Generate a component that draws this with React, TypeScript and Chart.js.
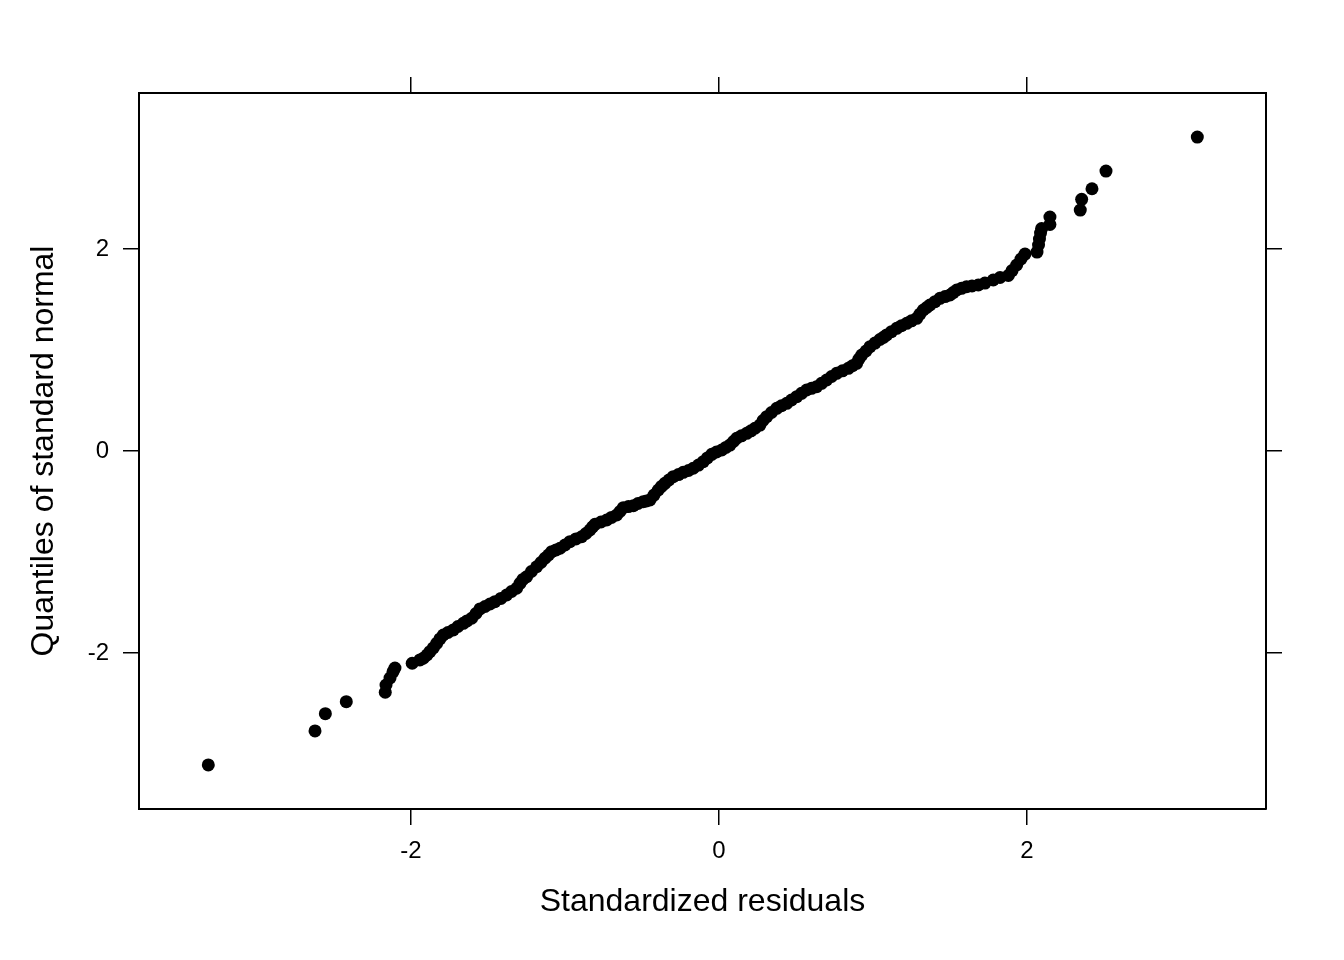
import React, { useEffect, useRef } from "react";
import { Chart, registerables } from "chart.js";

Chart.register(...registerables);

// Standardized residuals (x) and quantiles of standard normal (y)
const residuals: number[] = [
  -3.316, -2.623, -2.556, -2.42, -2.167, -2.162, -2.136, -2.117, -2.104, -1.992,
  -1.942, -1.92, -1.896, -1.877, -1.855, -1.833, -1.812, -1.79, -1.76, -1.725,
  -1.695, -1.66, -1.636, -1.606, -1.578, -1.552, -1.519, -1.487, -1.455, -1.416,
  -1.379, -1.347, -1.314, -1.292, -1.273, -1.249, -1.218, -1.184, -1.156, -1.13,
  -1.107, -1.086, -1.058, -1.032, -1.0, -0.968, -0.929, -0.892, -0.864, -0.838,
  -0.821, -0.805, -0.766, -0.729, -0.698, -0.664, -0.643, -0.621, -0.588, -0.556,
  -0.526, -0.492, -0.471, -0.448, -0.422, -0.394, -0.373, -0.351, -0.325, -0.297,
  -0.263, -0.232, -0.198, -0.167, -0.133, -0.102, -0.075, -0.047, -0.016, 0.018,
  0.045, 0.071, 0.094, 0.115, 0.146, 0.18, 0.208, 0.234, 0.266, 0.286,
  0.31, 0.341, 0.375, 0.406, 0.44, 0.471, 0.505, 0.536, 0.569, 0.601,
  0.634, 0.666, 0.699, 0.731, 0.764, 0.802, 0.84, 0.867, 0.894, 0.909,
  0.927, 0.955, 0.981, 1.013, 1.045, 1.068, 1.089, 1.12, 1.154, 1.185,
  1.219, 1.25, 1.284, 1.305, 1.327, 1.349, 1.37, 1.403, 1.435, 1.468,
  1.5, 1.521, 1.544, 1.575, 1.608, 1.643, 1.684, 1.727, 1.781, 1.825,
  1.879, 1.903, 1.933, 1.961, 1.987, 2.065, 2.075, 2.081, 2.088, 2.095,
  2.149, 2.149, 2.346, 2.355, 2.422, 2.513, 3.106,
];

const normalQuantiles: number[] = [
  -3.109, -2.772, -2.601, -2.482, -2.389, -2.317, -2.248, -2.188, -2.149, -2.102,
  -2.069, -2.052, -2.02, -1.987, -1.95, -1.904, -1.861, -1.822, -1.797, -1.772,
  -1.738, -1.706, -1.683, -1.656, -1.609, -1.564, -1.54, -1.515, -1.492, -1.46,
  -1.426, -1.391, -1.359, -1.31, -1.272, -1.245, -1.193, -1.146, -1.104, -1.062,
  -1.03, -0.997, -0.98, -0.963, -0.931, -0.898, -0.871, -0.849, -0.817, -0.782,
  -0.752, -0.726, -0.703, -0.683, -0.658, -0.634, -0.599, -0.561, -0.55, -0.542,
  -0.52, -0.502, -0.495, -0.485, -0.436, -0.386, -0.351, -0.32, -0.287, -0.254,
  -0.233, -0.211, -0.193, -0.171, -0.139, -0.106, -0.069, -0.033, -0.01, 0.01,
  0.035, 0.059, 0.094, 0.126, 0.15, 0.175, 0.2, 0.225, 0.257, 0.302,
  0.34, 0.381, 0.423, 0.448, 0.472, 0.505, 0.538, 0.571, 0.604, 0.621,
  0.637, 0.67, 0.703, 0.738, 0.769, 0.794, 0.819, 0.844, 0.868, 0.911,
  0.95, 0.99, 1.033, 1.069, 1.104, 1.126, 1.149, 1.182, 1.215, 1.24,
  1.264, 1.289, 1.314, 1.356, 1.396, 1.421, 1.446, 1.479, 1.512, 1.529,
  1.545, 1.569, 1.594, 1.611, 1.627, 1.634, 1.644, 1.663, 1.693, 1.718,
  1.738, 1.787, 1.842, 1.901, 1.95, 1.97, 2.04, 2.099, 2.158, 2.203,
  2.243, 2.317, 2.386, 2.492, 2.597, 2.772, 3.109,
];

const xTickValues: number[] = [-2, 0, 2];
const xTickLabels: string[] = ["-2", "0", "2"];
const yTickValues: number[] = [-2, 0, 2];
const yTickLabels: string[] = ["-2", "0", "2"];

const xLimits: number[] = [-3.766, 3.552];
const yLimits: number[] = [-3.545, 3.545];

const xTitle = "Standardized residuals";
const yTitle = "Quantiles of standard normal";

const FONT = "'Liberation Sans', Arial, Helvetica, sans-serif";

export default function App() {
  const canvasRef = useRef<HTMLCanvasElement | null>(null);

  useEffect(() => {
    const canvas = canvasRef.current;
    if (!canvas) return;

    const setTicks = (values: number[]) => (scale: any) => {
      scale.ticks = values.map((v) => ({ value: v }));
    };
    const labelFor = (values: number[], labels: string[]) => (value: any) => {
      const i = values.indexOf(Number(value));
      return i >= 0 ? labels[i] : "";
    };

    const gridCommon = {
      display: true,
      drawOnChartArea: false,
      drawTicks: true,
      tickLength: 16,
      color: "#000000",
      lineWidth: 1.5,
    };
    const borderCommon = { display: true, color: "#000000", width: 2 };

    const chart = new Chart(canvas, {
      type: "scatter",
      data: {
        datasets: [
          {
            data: residuals.map((x, i) => ({ x, y: normalQuantiles[i] })),
            backgroundColor: "#000000",
            borderWidth: 0,
            pointRadius: 6.5,
            pointHoverRadius: 6.5,
            xAxisID: "x",
            yAxisID: "y",
          },
        ],
      },
      options: {
        animation: false,
        responsive: false,
        devicePixelRatio: 1,
        layout: { padding: 0 },
        plugins: {
          legend: { display: false },
          tooltip: { enabled: false },
          title: { display: false },
        },
        scales: {
          x: {
            type: "linear",
            position: "bottom",
            min: xLimits[0],
            max: xLimits[1],
            afterBuildTicks: setTicks(xTickValues),
            afterFit: (scale: any) => {
              scale.height = 151;
            },
            ticks: {
              color: "#000000",
              font: { family: FONT, size: 24 },
              padding: 12,
              maxRotation: 0,
              autoSkip: false,
              callback: labelFor(xTickValues, xTickLabels),
            },
            grid: gridCommon,
            border: borderCommon,
            title: {
              display: true,
              text: xTitle,
              color: "#000000",
              font: { family: FONT, size: 32 },
              padding: { top: 0, bottom: 39 },
            },
          },
          x2: {
            type: "linear",
            position: "top",
            min: xLimits[0],
            max: xLimits[1],
            afterBuildTicks: setTicks(xTickValues),
            afterFit: (scale: any) => {
              scale.height = 93;
            },
            ticks: { display: false },
            grid: gridCommon,
            border: borderCommon,
          },
          y: {
            type: "linear",
            position: "left",
            min: yLimits[0],
            max: yLimits[1],
            afterBuildTicks: setTicks(yTickValues),
            afterFit: (scale: any) => {
              scale.width = 139;
            },
            ticks: {
              color: "#000000",
              font: { family: FONT, size: 24 },
              padding: 14,
              autoSkip: false,
              callback: labelFor(yTickValues, yTickLabels),
            },
            grid: gridCommon,
            border: borderCommon,
            title: {
              display: true,
              text: yTitle,
              color: "#000000",
              font: { family: FONT, size: 32 },
              padding: { top: 25, bottom: 0 },
            },
          },
          y2: {
            type: "linear",
            position: "right",
            min: yLimits[0],
            max: yLimits[1],
            afterBuildTicks: setTicks(yTickValues),
            afterFit: (scale: any) => {
              scale.width = 78;
            },
            ticks: { display: false },
            grid: gridCommon,
            border: borderCommon,
          },
        },
      },
    });

    return () => {
      chart.destroy();
    };
  }, []);

  return (
    <div
      style={{
        position: "fixed",
        left: 0,
        top: 0,
        width: 1344,
        height: 960,
        background: "#ffffff",
      }}
    >
      <canvas ref={canvasRef} width={1344} height={960} style={{ width: 1344, height: 960, display: "block" }} />
    </div>
  );
}
